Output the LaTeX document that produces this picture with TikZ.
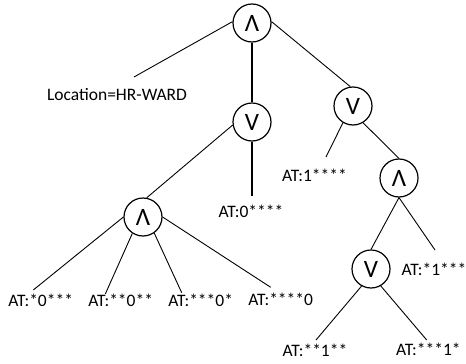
\documentclass[tikz,border=0pt]{standalone}
\usepackage{fontspec}
\setmainfont{Carlito}
\begin{document}
\begin{tikzpicture}[x=1pt,y=-1pt,
  op/.style={circle, draw, line width=1.2pt, minimum size=38pt, inner sep=0pt, font=\fontsize{25}{27}\selectfont},
  lab/.style={anchor=base, inner sep=0pt, font=\fontsize{17.5}{20}\selectfont},
  thinln/.style={line width=0.9pt},
  thickln/.style={line width=2.2pt}]
\useasboundingbox (0,0) rectangle (466,364);
% operator nodes
\node[op] (root) at (252,23) {Λ};
\node[op] (mv) at (252,122) {V};
\node[op] (rv) at (353,106) {V};
\node[op] (ra) at (399,178) {Λ};
\node[op] (la) at (143,217) {Λ};
\node[op] (rv2) at (371,269) {V};
% labels
\node[lab] (tloc) at (117,100) {Location=HR-WARD};
\node[lab] (t1) at (314.5,181.5) {AT:1****};
\node[lab] (t0) at (251,217) {AT:0****};
\node[lab] (ta) at (40.7,306) {AT:*0***};
\node[lab] (tb) at (120.7,306) {AT:**0**};
\node[lab] (tc) at (200.7,306) {AT:***0*};
\node[lab] (td) at (280.7,305) {AT:****0};
\node[lab] (te) at (434,275) {AT:*1***};
\node[lab] (tf) at (315,356) {AT:**1**};
\node[lab] (tg) at (428.3,355) {AT:***1*};
% free ends
\coordinate (cLoc) at (134,77);
\coordinate (c0) at (252,196);
\coordinate (c1) at (326,157);
\coordinate (c2) at (316,340);
\coordinate (c3) at (426.7,340);
\coordinate (c4) at (33.3,290);
\coordinate (c5) at (105.3,294);
\coordinate (c6) at (181.7,292.7);
\coordinate (c7) at (270.7,287.3);
\coordinate (c8) at (435,250);
% connectors
\draw[thinln] (root.176) -- (cLoc);
\draw[thickln] (root.south) -- (mv.north);
\draw[thinln] (root.4) -- (rv.98);
\draw[thinln] (mv.189) -- (la.79);
\draw[thickln] (mv.south) -- (c0);
\draw[thinln] (rv.-121) -- (c1);
\draw[thinln] (rv.-59) -- (ra.north);
\draw[thinln] (ra.south) -- (rv2.north);
\draw[thinln] (ra.south) -- (c8);
\draw[thinln] (rv2.-119) -- (c2);
\draw[thinln] (rv2.-60) -- (c3);
\draw[thinln] (la.180) -- (c4);
\draw[thinln] (la.-123) -- (c5);
\draw[thinln] (la.-55) -- (c6);
\draw[thinln] (la.0) -- (c7);
\end{tikzpicture}
\end{document}
